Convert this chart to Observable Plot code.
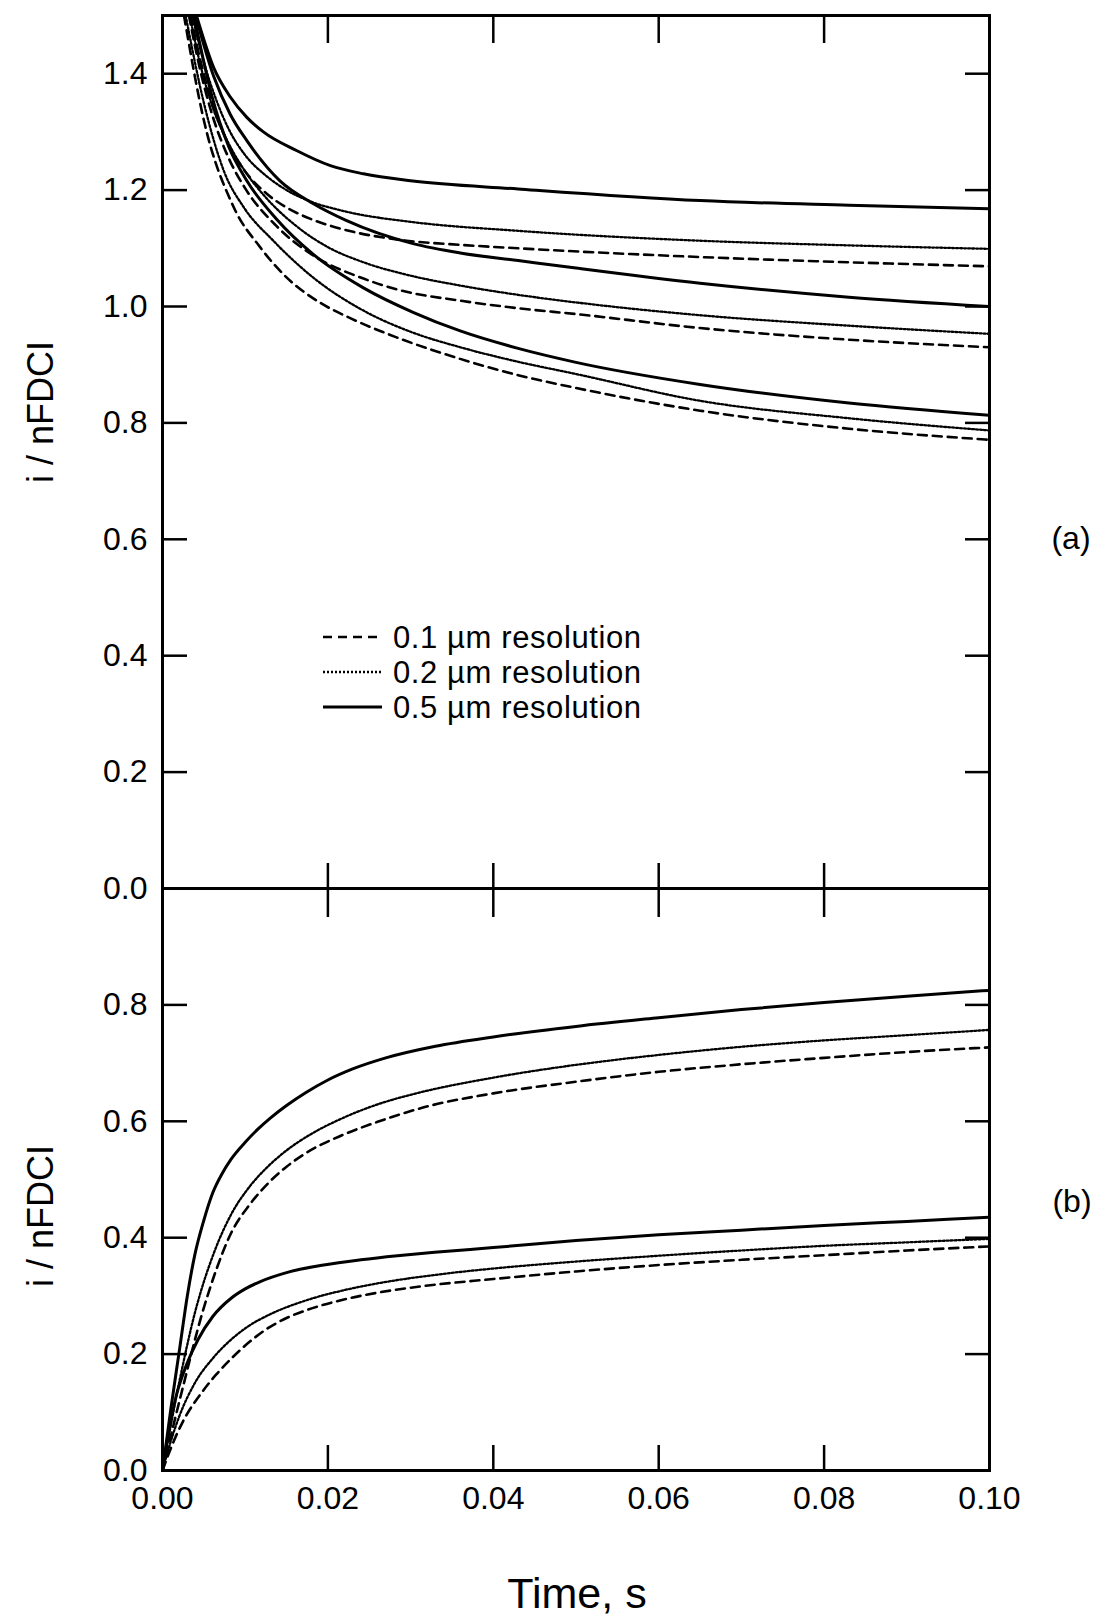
<!DOCTYPE html>
<html>
<head>
<meta charset="utf-8">
<script src="https://cdn.jsdelivr.net/npm/d3@7"></script>
<script src="https://cdn.jsdelivr.net/npm/@observablehq/plot@0.6"></script>
<style>
html, body { margin: 0; padding: 0; background: #fff; }
#wrap { position: relative; width: 1105px; height: 1617px; font-family: "Liberation Sans", Arial, Helvetica, sans-serif; color: #000; overflow: hidden; }
#wrap svg { overflow: visible; }
.abs { position: absolute; white-space: nowrap; line-height: 1; }
</style>
</head>
<body>
<div id="wrap">
  <div id="plotA" class="abs" style="left:0;top:0;"></div>
  <div id="plotB" class="abs" style="left:0;top:888px;"></div>
</div>
<script>
// ---------------- data (time in s, i/nFDCI) ----------------
// panel (a): three groups (upper, middle, lower), each at 0.1 / 0.2 / 0.5 µm resolution
const aUpper01 = [[0.0034,1.50],[0.0048,1.41],[0.0065,1.33],[0.0082,1.272],[0.0100,1.232],[0.0125,1.195],[0.0150,1.170],[0.0180,1.150],[0.0220,1.132],[0.029,1.114],[0.036,1.106],[0.043,1.100],[0.065,1.085],[0.083,1.076],[0.10,1.069]];
const aUpper02 = [[0.0036,1.50],[0.0050,1.42],[0.0065,1.355],[0.0080,1.305],[0.0100,1.26],[0.0125,1.225],[0.0150,1.200],[0.0180,1.180],[0.0222,1.163],[0.0303,1.145],[0.043,1.130],[0.065,1.113],[0.083,1.105],[0.10,1.099]];
const aUpper05 = [[0.0041,1.50],[0.0062,1.41],[0.0082,1.36],[0.0102,1.325],[0.0122,1.30],[0.0162,1.268],[0.0203,1.242],[0.0243,1.228],[0.030,1.216],[0.043,1.202],[0.065,1.182],[0.083,1.174],[0.10,1.168]];
const aMiddle01 = [[0.0032,1.50],[0.0045,1.41],[0.0060,1.33],[0.0080,1.255],[0.0100,1.203],[0.0138,1.138],[0.0182,1.088],[0.0243,1.048],[0.029,1.027],[0.036,1.010],[0.043,0.997],[0.050,0.987],[0.065,0.963],[0.083,0.943],[0.10,0.930]];
const aMiddle02 = [[0.0033,1.50],[0.0045,1.42],[0.0060,1.345],[0.0080,1.28],[0.0100,1.232],[0.0122,1.192],[0.0162,1.138],[0.020,1.102],[0.0243,1.076],[0.0303,1.052],[0.036,1.036],[0.043,1.020],[0.050,1.007],[0.065,0.985],[0.083,0.967],[0.10,0.953]];
const aMiddle05 = [[0.0040,1.50],[0.0062,1.395],[0.0082,1.33],[0.0102,1.285],[0.0142,1.216],[0.0182,1.177],[0.0222,1.148],[0.0303,1.108],[0.036,1.092],[0.043,1.079],[0.050,1.066],[0.065,1.040],[0.083,1.016],[0.10,1.000]];
const aLower01 = [[0.0026,1.50],[0.0050,1.32],[0.0086,1.171],[0.0118,1.102],[0.0150,1.050],[0.0190,1.007],[0.0227,0.980],[0.0283,0.947],[0.036,0.910],[0.043,0.882],[0.050,0.860],[0.065,0.821],[0.083,0.790],[0.10,0.771]];
const aLower02 = [[0.0028,1.50],[0.0050,1.35],[0.0075,1.23],[0.0098,1.171],[0.0134,1.113],[0.0182,1.050],[0.0243,0.993],[0.0303,0.955],[0.036,0.930],[0.043,0.905],[0.050,0.884],[0.065,0.838],[0.083,0.808],[0.10,0.787]];
const aLower05 = [[0.0038,1.50],[0.0050,1.42],[0.0060,1.36],[0.0080,1.275],[0.0102,1.216],[0.0138,1.150],[0.0182,1.090],[0.0243,1.032],[0.0303,0.990],[0.036,0.958],[0.043,0.928],[0.050,0.904],[0.065,0.866],[0.083,0.834],[0.10,0.813]];

// panel (b): two groups (upper, lower)
const bUpper01 = [[0,0],[0.0025,0.145],[0.0048,0.27],[0.0065,0.345],[0.0083,0.408],[0.0106,0.458],[0.0128,0.494],[0.0150,0.522],[0.0173,0.545],[0.0217,0.576],[0.0262,0.600],[0.0316,0.624],[0.04,0.648],[0.05,0.668],[0.06,0.685],[0.07,0.698],[0.08,0.709],[0.09,0.719],[0.10,0.727]];
const bUpper02 = [[0,0],[0.0020,0.15],[0.0039,0.27],[0.0063,0.377],[0.0083,0.440],[0.0106,0.489],[0.0128,0.523],[0.0150,0.550],[0.0182,0.580],[0.0217,0.605],[0.0262,0.630],[0.0307,0.648],[0.04,0.675],[0.05,0.697],[0.06,0.714],[0.07,0.728],[0.08,0.739],[0.09,0.748],[0.10,0.757]];
const bUpper05 = [[0,0],[0.0010,0.105],[0.0021,0.212],[0.0030,0.30],[0.0039,0.37],[0.0050,0.43],[0.0061,0.478],[0.0072,0.51],[0.0083,0.535],[0.0100,0.564],[0.0115,0.586],[0.0130,0.605],[0.0150,0.627],[0.0173,0.649],[0.0200,0.671],[0.0230,0.690],[0.0270,0.709],[0.0330,0.729],[0.0400,0.745],[0.0500,0.763],[0.0600,0.778],[0.0700,0.792],[0.0800,0.804],[0.0900,0.815],[0.1000,0.825]];
const bLower01 = [[0,0],[0.0012,0.045],[0.0025,0.085],[0.0048,0.135],[0.0065,0.165],[0.0083,0.192],[0.0106,0.222],[0.0128,0.245],[0.0150,0.262],[0.0173,0.275],[0.0217,0.293],[0.0262,0.306],[0.0316,0.317],[0.04,0.329],[0.05,0.342],[0.06,0.353],[0.07,0.362],[0.08,0.370],[0.09,0.378],[0.10,0.385]];
const bLower02 = [[0,0],[0.0010,0.05],[0.0020,0.092],[0.0039,0.150],[0.0061,0.193],[0.0083,0.225],[0.0105,0.249],[0.0128,0.267],[0.0173,0.292],[0.0217,0.309],[0.0262,0.322],[0.0329,0.336],[0.04,0.347],[0.05,0.359],[0.06,0.369],[0.07,0.378],[0.08,0.386],[0.09,0.392],[0.10,0.398]];
const bLower05 = [[0,0],[0.0008,0.07],[0.0016,0.125],[0.0030,0.185],[0.0043,0.225],[0.0061,0.265],[0.0083,0.296],[0.0100,0.312],[0.0119,0.325],[0.0150,0.340],[0.0195,0.353],[0.024,0.362],[0.0284,0.369],[0.0329,0.375],[0.04,0.383],[0.05,0.395],[0.06,0.405],[0.07,0.413],[0.08,0.421],[0.09,0.428],[0.10,0.435]];

// tick values and labels
const xTicksAll = [0, 0.02, 0.04, 0.06, 0.08, 0.10];
const xTicksInner = [0.02, 0.04, 0.06, 0.08];
const yTicksA = [0, 0.2, 0.4, 0.6, 0.8, 1.0, 1.2, 1.4];
const yTicksB = [0, 0.2, 0.4, 0.6, 0.8];
const legendLabels = ["0.1 \u00b5m resolution", "0.2 \u00b5m resolution", "0.5 \u00b5m resolution"];
const legendStyles = ["dashed", "dotted", "solid"];
const yLabel = "i / nFDCI";
const xLabel = "Time, s";
const panelTags = ["(a)", "(b)"];

// ---------------- styles ----------------
const styles = {
  dashed: {stroke: "#000", strokeWidth: 2.6, strokeDasharray: "9,6"},
  dotted: {stroke: "#000", strokeWidth: 2.3, strokeDasharray: "2,2"},
  solid:  {stroke: "#000", strokeWidth: 3}
};
const toRows = pts => pts.map(([t, v]) => ({t, v}));
const lineMarks = list => list.map(([pts, s]) =>
  Plot.line(toRows(pts), {x: "t", y: "v", curve: "monotone-x", clip: true, ...styles[s]}));

const font = "'Liberation Sans', Arial, Helvetica, sans-serif";
const common = {
  width: 1105,
  marginLeft: 162,
  marginRight: 116,
  x: {domain: [0, 0.1]},
  style: {fontFamily: font, fontSize: "32px", overflow: "visible", background: "none", color: "#000"}
};
const tickStyle = {strokeWidth: 2.5, label: null};

const plotA = Plot.plot({
  ...common,
  height: 888,
  marginTop: 15,
  marginBottom: 0,
  y: {domain: [0, 1.5]},
  marks: [
    ...lineMarks([
      [aUpper01, "dashed"], [aUpper02, "dotted"], [aUpper05, "solid"],
      [aMiddle01, "dashed"], [aMiddle02, "dotted"], [aMiddle05, "solid"],
      [aLower01, "dashed"], [aLower02, "dotted"], [aLower05, "solid"]
    ]),
    Plot.frame({strokeWidth: 3}),
    Plot.axisY(yTicksA, {anchor: "left", tickSize: -25, tickPadding: 40, tickFormat: d3.format(".1f"), fontSize: 32, ...tickStyle}),
    Plot.axisY(yTicksA, {anchor: "right", tickSize: -25, tickFormat: () => "", fill: "none", ...tickStyle}),
    Plot.axisX(xTicksInner, {anchor: "top", tickSize: -27, tickFormat: () => "", fill: "none", ...tickStyle}),
    Plot.axisX(xTicksInner, {anchor: "bottom", tickSize: -25, tickFormat: () => "", fill: "none", ...tickStyle})
  ]
});
document.getElementById("plotA").appendChild(plotA);

const plotB = Plot.plot({
  ...common,
  height: 729,
  marginTop: 0,
  marginBottom: 147,
  y: {domain: [0, 1.0]},
  marks: [
    ...lineMarks([
      [bUpper01, "dashed"], [bUpper02, "dotted"], [bUpper05, "solid"],
      [bLower01, "dashed"], [bLower02, "dotted"], [bLower05, "solid"]
    ]),
    Plot.frame({strokeWidth: 3}),
    Plot.axisY(yTicksB, {anchor: "left", tickSize: -25, tickPadding: 40, tickFormat: d3.format(".1f"), fontSize: 32, ...tickStyle}),
    Plot.axisY(yTicksB, {anchor: "right", tickSize: -25, tickFormat: () => "", fill: "none", ...tickStyle}),
    Plot.axisX(xTicksInner, {anchor: "top", tickSize: -28, tickFormat: () => "", fill: "none", ...tickStyle}),
    Plot.axisX(xTicksAll, {anchor: "bottom", tickSize: -25, tickPadding: 41, tickFormat: d3.format(".2f"), fontSize: 32, ...tickStyle})
  ]
});
document.getElementById("plotB").appendChild(plotB);

// ---------------- text labels ----------------
const wrap = d3.select("#wrap");
function addText(txt, x, y, size, rotate) {
  wrap.append("div").attr("class", "abs").text(txt)
    .style("left", x + "px").style("top", y + "px")
    .style("font-size", size + "px")
    .style("transform", `translate(-50%,-50%)${rotate ? " rotate(-90deg)" : ""}`);
}
addText(yLabel, 41, 412, 36, true);
addText(yLabel, 41, 1216, 36, true);
addText(panelTags[0], 1071, 538, 32, false);
addText(panelTags[1], 1072, 1201, 32, false);
addText(xLabel, 577, 1593, 43, false);

// ---------------- legend ----------------
const leg = wrap.append("svg").attr("class", "abs")
  .style("left", "0px").style("top", "0px")
  .attr("width", 1105).attr("height", 888).style("pointer-events", "none");
legendLabels.forEach((lab, i) => {
  const yc = 637 + i * 35;
  const s = styles[legendStyles[i]];
  leg.append("line").attr("x1", 323).attr("x2", 382).attr("y1", yc).attr("y2", yc)
    .attr("stroke", "#000").attr("stroke-width", s.strokeWidth)
    .attr("stroke-dasharray", s.strokeDasharray || null);
  leg.append("text").attr("x", 393).attr("y", yc).attr("dy", "0.36em")
    .attr("font-family", font).attr("font-size", 31).attr("letter-spacing", "0.6px")
    .text(lab);
});
</script>
</body>
</html>
